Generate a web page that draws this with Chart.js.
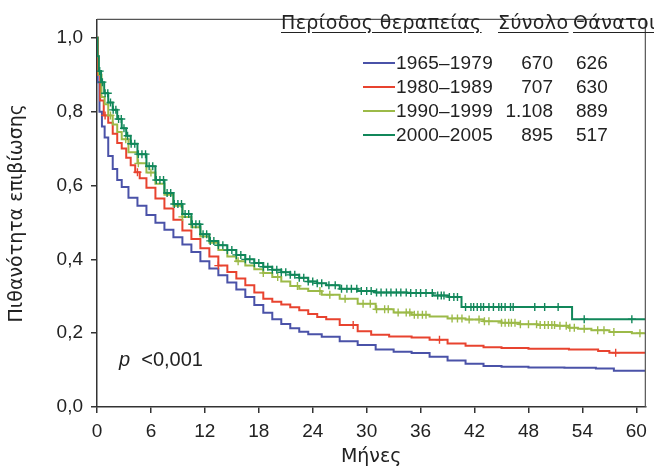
<!DOCTYPE html>
<html>
<head>
<meta charset="utf-8">
<script src="https://cdn.jsdelivr.net/npm/chart.js@4.4.1/dist/chart.umd.min.js"></script>
<style>
  body { margin: 0; background: #fff; }
  #wrap { position: relative; width: 654px; height: 469px; overflow: hidden;
          font-family: "Liberation Sans", Arial, Helvetica, sans-serif; color: #222; }
  #chart { position: absolute; left: 0; top: 0; }
  .hd { position: absolute; top: 10px; font-family: "DejaVu Sans", sans-serif; font-size: 19px; line-height: 24px;
        letter-spacing: 0.4px; text-decoration: underline; text-underline-offset: 3px; white-space: nowrap; }
  .row { position: absolute; left: 0; width: 654px; height: 24px; font-size: 19px; line-height: 24px; }
  .row .ln { position: absolute; left: 363px; top: 11px; width: 32px; height: 2px; }
  .row .per { position: absolute; left: 396px; letter-spacing: 0.2px; }
  .row .tot { position: absolute; right: 101px; }
  .row .dth { position: absolute; left: 576px; }
  #pval { position: absolute; left: 119px; top: 347px; font-size: 20px; line-height: 24px; }
</style>
</head>
<body>
<div id="wrap">
  <canvas id="chart" width="654" height="469"></canvas>
  <div class="hd" style="left:281px">Περίοδος θεραπείας</div>
  <div class="hd" style="left:498px">Σύνολο</div>
  <div class="hd" style="left:573px">Θάνατοι</div>
  <div id="legend"></div>
  <div id="pval"><i>p</i>&nbsp; &lt;0,001</div>
</div>
<script>
// legend table
const periods = ['1965–1979', '1980–1989', '1990–1999', '2000–2005'];
const totals = ['670', '707', '1.108', '895'];
const deaths = ['626', '630', '889', '517'];

// axis ticks
const xTicks = [0, 6, 12, 18, 24, 30, 36, 42, 48, 54, 60];
const yTicks = [0, 0.2, 0.4, 0.6, 0.8, 1.0];

// survival curves (months, survival)
const m6579 = [0, 0.15, 0.4, 0.7, 1, 1.5, 2, 2.5, 3, 4, 5, 6, 7, 8, 9, 10, 11, 12, 13, 14, 15, 16, 17, 18, 19, 20, 21, 22, 23, 24, 26, 28, 30, 32, 34, 36, 38, 40, 42, 44, 46, 50, 54, 57, 58, 61];
const s6579 = [1.0, 0.88, 0.80, 0.76, 0.73, 0.68, 0.645, 0.615, 0.596, 0.567, 0.545, 0.52, 0.499, 0.48, 0.46, 0.44, 0.42, 0.395, 0.375, 0.357, 0.337, 0.318, 0.298, 0.276, 0.255, 0.238, 0.225, 0.213, 0.204, 0.197, 0.19, 0.178, 0.168, 0.156, 0.15, 0.146, 0.136, 0.126, 0.117, 0.111, 0.109, 0.107, 0.106, 0.104, 0.098, 0.098];

const m8089 = [0, 0.2, 0.5, 1, 1.5, 2, 2.5, 3, 3.5, 4, 4.5, 5, 6, 7, 8, 9, 10, 11, 12, 13, 14, 15, 16, 17, 18, 19, 20, 21, 22, 23, 24, 25, 26, 28, 30, 31, 34, 36, 38, 40, 42, 44, 46, 50, 55, 56.5, 57.5, 61];
const s8089 = [1.0, 0.9, 0.83, 0.79, 0.77, 0.74, 0.715, 0.70, 0.675, 0.655, 0.636, 0.62, 0.594, 0.565, 0.538, 0.507, 0.478, 0.455, 0.43, 0.408, 0.383, 0.366, 0.348, 0.33, 0.31, 0.293, 0.285, 0.278, 0.27, 0.262, 0.252, 0.244, 0.238, 0.222, 0.205, 0.196, 0.191, 0.188, 0.182, 0.172, 0.166, 0.162, 0.16, 0.158, 0.156, 0.152, 0.147, 0.147];

const m9099 = [0, 0.1, 0.3, 0.7, 1, 1.5, 2, 2.5, 3, 4, 5, 6, 7, 8, 9, 10, 11, 12, 13, 14, 15, 16, 17, 18, 19, 20, 21, 22, 23, 24, 26, 28, 30, 32, 34, 36, 38, 40, 42, 44, 46, 48, 50, 52, 53, 54, 56, 58, 61];
const s9099 = [1.0, 0.95, 0.90, 0.84, 0.82, 0.79, 0.765, 0.745, 0.725, 0.69, 0.66, 0.635, 0.605, 0.575, 0.545, 0.515, 0.487, 0.462, 0.445, 0.425, 0.408, 0.395, 0.383, 0.373, 0.363, 0.352, 0.34, 0.328, 0.32, 0.314, 0.304, 0.293, 0.28, 0.265, 0.256, 0.25, 0.245, 0.24, 0.237, 0.232, 0.228, 0.224, 0.222, 0.22, 0.215, 0.212, 0.208, 0.203, 0.2];

const m0005 = [0, 0.1, 0.3, 0.6, 1, 1.5, 2, 2.5, 3, 3.5, 4, 5, 6, 7, 8, 9, 10, 11, 12, 13, 14, 15, 16, 17, 18, 19, 20, 21, 22, 23, 24, 25, 26, 28, 30, 32, 37, 37.7, 40.5, 40.6, 52.8, 52.9, 61];
const s0005 = [1.0, 0.95, 0.91, 0.88, 0.85, 0.825, 0.805, 0.78, 0.755, 0.735, 0.713, 0.685, 0.652, 0.615, 0.58, 0.55, 0.523, 0.495, 0.468, 0.45, 0.438, 0.425, 0.412, 0.40, 0.39, 0.38, 0.372, 0.365, 0.358, 0.35, 0.34, 0.335, 0.33, 0.32, 0.314, 0.31, 0.309, 0.302, 0.298, 0.271, 0.271, 0.238, 0.238];

// censored observations (months)
const c6579 = [];
const c8089 = [0.9, 4.5, 13.5, 28.5, 38.1, 57.7];
const c9099 = [1.5, 3.2, 4.6, 6.0, 9.5, 15.7, 18.5, 20.1, 22.3, 24.8, 25.9, 27.6, 29.6, 30.4, 31.1, 32.0, 32.4, 33.5, 34.4, 34.8, 35.3, 35.7, 36.2, 36.6, 39.5, 40.1, 40.6, 41.4, 42.5, 43.1, 43.6, 45.0, 45.4, 45.8, 46.1, 46.5, 47.1, 48.0, 48.9, 49.3, 49.8, 50.2, 50.6, 50.9, 51.5, 52.2, 52.6, 53.1, 54.2, 55.7, 56.4, 57.5, 60.4];
const c0005 = [0.3, 0.6, 0.9, 1.2, 1.5, 1.8, 2.1, 2.4, 2.7, 3.0, 3.4, 3.8, 4.2, 4.6, 5.0, 5.4, 5.8, 6.2, 6.6, 7.0, 7.4, 7.8, 8.2, 8.6, 9.0, 9.4, 9.8, 10.2, 10.6, 11.0, 11.4, 11.8, 12.2, 12.6, 13.0, 13.5, 14.0, 14.5, 15.0, 15.5, 16.0, 16.5, 17.0, 17.5, 18.0, 18.5, 19.0, 19.5, 20.0, 20.5, 21.0, 21.5, 22.0, 22.5, 23.0, 23.5, 24.0, 24.5, 25.0,
  25.8, 26.5, 27.2, 27.8, 28.3, 28.9, 29.4, 30.0, 30.5, 31.1, 31.6, 32.2, 32.7, 33.3, 33.8, 34.4, 34.9, 35.5, 36.0, 36.6, 37.3, 37.9, 38.3, 38.6, 39.2, 39.7, 40.1, 41.0, 41.6, 41.9, 42.3, 42.7, 43.0, 43.6, 44.1, 44.7, 45.0, 45.4, 46.0, 46.3, 48.7, 49.8, 51.3, 54.2, 59.5];

const colors = ['#4a52a8', '#e8432f', '#9cba48', '#11875a'];

const curves = [[m6579, s6579, c6579], [m8089, s8089, c8089], [m9099, s9099, c9099], [m0005, s0005, c0005]];

// value of the (mid-stepped) curve at time t
function survAt(ms, ss, t) {
  for (let i = 0; i < ms.length - 1; i++) {
    if (t < ms[i + 1]) return t < (ms[i] + ms[i + 1]) / 2 ? ss[i] : ss[i + 1];
  }
  return ss[ss.length - 1];
}

const datasets = [];
curves.forEach((c, i) => {
  datasets.push({
    label: periods[i],
    data: c[0].map((m, j) => ({ x: m, y: c[1][j] })),
    borderColor: colors[i],
    borderWidth: 2,
    stepped: 'middle',
    pointRadius: 0,
    order: 10 - i * 2
  });
  datasets.push({
    label: periods[i] + ' censored',
    data: c[2].map(t => ({ x: t, y: survAt(c[0], c[1], t) })),
    showLine: false,
    pointStyle: 'cross',
    pointRadius: 4,
    borderColor: colors[i],
    borderWidth: 1.4,
    order: 9 - i * 2
  });
});

// legend rows
const leg = document.getElementById('legend');
periods.forEach((p, i) => {
  const r = document.createElement('div');
  r.className = 'row';
  r.style.top = (51 + i * 24) + 'px';
  r.innerHTML = '<span class="ln" style="background:' + colors[i] + '"></span>' +
    '<span class="per">' + p + '</span><span class="tot">' + totals[i] + '</span>' +
    '<span class="dth">' + deaths[i] + '</span>';
  leg.appendChild(r);
});

const frame = {
  id: 'frame',
  afterDraw(chart) {
    const a = chart.chartArea, ctx = chart.ctx;
    ctx.save();
    ctx.strokeStyle = '#555';
    ctx.lineWidth = 1.2;
    ctx.beginPath();
    ctx.moveTo(a.left, a.top);
    ctx.lineTo(a.right, a.top);
    ctx.lineTo(a.right, a.bottom);
    ctx.stroke();
    ctx.restore();
  }
};

const font = { family: '"Liberation Sans", Arial, Helvetica, sans-serif', size: 19 };
const titleFont = { family: '"DejaVu Sans", sans-serif', size: 19 };

new Chart(document.getElementById('chart'), {
  type: 'line',
  data: { datasets: datasets },
  plugins: [frame],
  options: {
    responsive: false,
    animation: false,
    layout: { padding: { top: 13, right: 2, left: 0, bottom: 0 } },
    plugins: { legend: { display: false }, tooltip: { enabled: false } },
    scales: {
      x: {
        type: 'linear', min: 0, max: 61,
        afterBuildTicks: s => { s.ticks = xTicks.map(v => ({ value: v })); },
        afterFit: s => { s.height = 62; },
        ticks: { font: font, color: '#222', padding: 7, maxRotation: 0, autoSkip: false },
        grid: { drawOnChartArea: false, drawTicks: true, tickLength: 6, color: '#333', lineWidth: 1.5 },
        border: { color: '#333', width: 1.5 },
        title: { display: true, text: 'Μήνες', font: titleFont, color: '#222', padding: { top: 0, bottom: 1 } }
      },
      y: {
        min: 0, max: 1.05,
        afterBuildTicks: s => { s.ticks = yTicks.map(v => ({ value: v })); },
        afterFit: s => { s.width = 97; },
        ticks: { font: font, color: '#222', padding: 8, callback: v => v.toFixed(1).replace('.', ',') },
        grid: { drawOnChartArea: false, drawTicks: true, tickLength: 6, color: '#333', lineWidth: 1.5 },
        border: { color: '#333', width: 1.5 },
        title: { display: true, text: 'Πιθανότητα επιβίωσης', font: titleFont, color: '#222', padding: { top: 6, bottom: 0 } }
      }
    }
  }
});
</script>
</body>
</html>
